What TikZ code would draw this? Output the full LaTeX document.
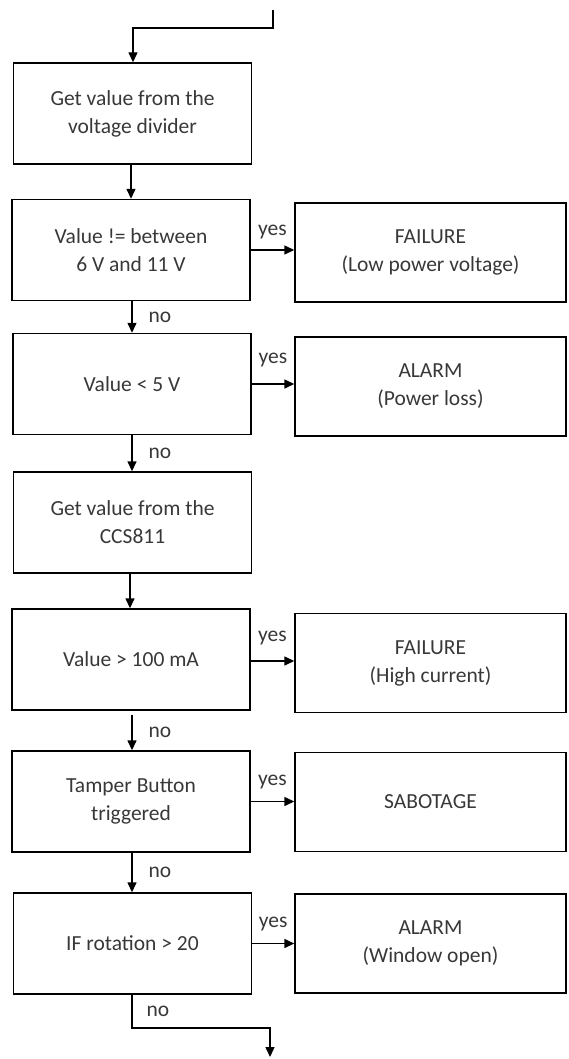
\documentclass[tikz,border=0pt]{standalone}
\usepackage{fontspec}
\setmainfont{Carlito}
\usetikzlibrary{arrows.meta}
\usetikzlibrary{positioning}

\tikzset{
  stepbox/.style={draw, line width=1.4pt, minimum width=238pt, minimum height=101pt, align=center, text=black!78, inner sep=0pt},
  outbox/.style={stepbox, minimum width=271pt, minimum height=99pt},
  flow/.style={-{Triangle[length=10pt,width=9pt]}, line width=1.4pt},
  lbl/.style={text=black!78, inner sep=0pt}
}

\begin{document}
\begin{tikzpicture}[x=1pt, y=-1pt, font=\fontsize{21.5}{28}\selectfont]
\useasboundingbox (0,0) rectangle (568,1059);

\node[stepbox] (getdiv) at (132.5,113.5) {Get value from the\\voltage divider};
\node[stepbox] (range) at (131,250) {Value != between\\6 V and 11 V};
\node[stepbox] (lowvolt) at (132,384) {Value < 5 V};
\node[stepbox] (getccs) at (132.5,522.5) {Get value from the\\CCS811};
\node[stepbox] (current) at (131,659.5) {Value > 100 mA};
\node[stepbox] (tamper) at (131,801.5) {Tamper Button\\triggered};
\node[stepbox] (rotation) at (132.5,943.5) {IF rotation > 20};

\node[outbox] (fail1) at (430.5,252.5) {FAILURE\\(Low power voltage)};
\node[outbox] (alarm1) at (430.5,386.5) {ALARM\\(Power loss)};
\node[outbox] (fail2) at (430.5,663) {FAILURE\\(High current)};
\node[outbox] (sabotage) at (430.5,802) {SABOTAGE};
\node[outbox] (alarm2) at (430.5,943.5) {ALARM\\(Window open)};

\coordinate (entry) at (273,10);
\coordinate (exit) at (270,1057);

\draw[flow] (entry) |- (133,28) -- (getdiv.north -| 133,0);
\draw[flow] (getdiv.south -| 131,0) -- (range.north -| 131,0);
\draw[flow] (range.south -| 132,0) -- node[lbl, right=16pt] {no} (lowvolt.north -| 132,0);
\draw[flow] (lowvolt.south -| 132,0) -- node[lbl, right=16pt] {no} (getccs.north -| 132,0);
\draw[flow] (getccs.south -| 130,0) -- (current.north -| 130,0);
\draw[flow] (current.south -| 132,0) ++(0,4) -- node[lbl, right=16pt] {no} (tamper.north -| 132,0);
\draw[flow] (tamper.south -| 132,0) -- node[lbl, right=16pt] {no} (rotation.north -| 132,0);
\draw[flow] (rotation.south -| 132,0) -- node[lbl, right=14pt] {no} (132,1028) -| (exit);

\draw[flow] (range.east) -- node[lbl, above=10pt] {yes} (range.east -| fail1.west);
\draw[flow] (lowvolt.east) -- node[lbl, above=16pt] {yes} (lowvolt.east -| alarm1.west);
\draw[flow] (current.east) ++(0,1.5) -- node[lbl, above=15pt] {yes} (fail2.west |- 0,661);
\draw[flow] (tamper.east) -- node[lbl, above=12pt] {yes} (tamper.east -| sabotage.west);
\draw[flow] (rotation.east) -- node[lbl, above=12pt] {yes} (rotation.east -| alarm2.west);
\end{tikzpicture}
\end{document}
